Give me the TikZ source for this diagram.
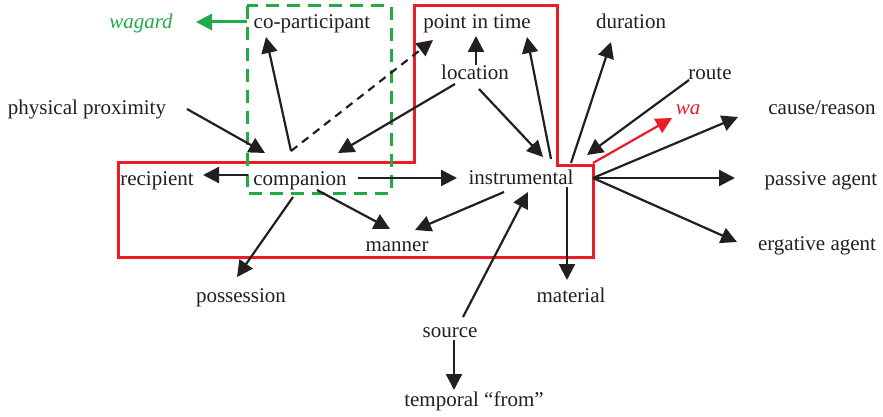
\documentclass[tikz,border=0pt]{standalone}
\usepackage{fontspec}
\setmainfont{Liberation Serif}
\usetikzlibrary{arrows.meta}
\definecolor{rred}{RGB}{237,28,36}
\definecolor{ggreen}{RGB}{34,170,72}
\definecolor{ink}{RGB}{35,31,32}
\begin{document}
\begin{tikzpicture}[x=1pt,y=-1pt,
  lbl/.style={anchor=base,inner sep=0pt,font=\fontsize{21}{25}\selectfont,text=ink},
  tip/.style={-{Triangle[length=16pt,width=16pt]}},
  arr/.style={draw=ink,line width=2.2pt,tip},
  redbox/.style={draw=rred,line width=3pt},
  greenbox/.style={draw=ggreen,line width=3pt,dash pattern=on 13pt off 8pt}]
\useasboundingbox (0,0) rectangle (883,417);
% outlines
\draw[redbox] (118,162) -- (414,162) -- (414,6) -- (557,6) -- (557,165) -- (593,165) -- (593,257) -- (118,257) -- cycle;
\draw[greenbox] (247,6) rectangle (391,193);
% labels
\node[lbl,text=ggreen,font=\fontsize{21}{25}\selectfont\itshape] (wagard) at (141,29) {wagard};
\node[lbl] (copart) at (312,29) {co-participant};
\node[lbl] (pit) at (477,29) {point in time};
\node[lbl] (dur) at (631,29) {duration};
\node[lbl] (loc) at (475,80) {location};
\node[lbl] (route) at (710,80) {route};
\node[lbl,text=rred,font=\fontsize{21}{25}\selectfont\itshape] (wa) at (688,115) {wa};
\node[lbl] (phys) at (87,114) {physical proximity};
\node[lbl] (cause) at (822,114) {cause/reason};
\node[lbl] (recip) at (157,185) {recipient};
\node[lbl] (comp) at (300,185) {companion};
\node[lbl] (instr) at (521,184) {instrumental};
\node[lbl] (pass) at (821,185) {passive agent};
\node[lbl] (manner) at (397,251) {manner};
\node[lbl] (erg) at (817,250) {ergative agent};
\node[lbl] (poss) at (241,302) {possession};
\node[lbl] (mat) at (571,302) {material};
\node[lbl] (src) at (450,337) {source};
\node[lbl] (temp) at (474,406) {temporal “from”};
% connector points
\coordinate (compV) at (291,151);
\coordinate (insR) at (593,178);
% arrows
\draw[arr,draw=ggreen,color=ggreen,line width=3pt] (247,22) -- (196,22);
\draw[arr] (compV) -- (266,37);
\draw[draw=ink,line width=2.2pt,dash pattern=on 8pt off 6pt,tip] (compV) -- (433,40);
\draw[arr] (187,109) -- (265,153);
\draw[arr] (455,84) -- (338,153);
\draw[arr] (476,65) -- (476,36);
\draw[arr] (479,89) -- (543,157);
\draw[arr] (551,159) -- (527,37);
\draw[arr] (571,163) -- (611,42);
\draw[arr] (689,80) -- (587,155);
\draw[arr,draw=rred,color=rred] (593,163) -- (672,118);
\draw[arr] (insR) -- (738,117);
\draw[arr] (insR) -- (735,178);
\draw[arr] (insR) -- (737,242);
\draw[arr] (358,178) -- (457,178);
\draw[arr] (248,175) -- (203,175);
\draw[arr] (317,190) -- (390,229);
\draw[arr] (504,192) -- (415,230);
\draw[arr] (293,197) -- (237,277);
\draw[arr] (463,317) -- (528,192);
\draw[arr] (567,187) -- (567,280);
\draw[arr] (454,340) -- (454,390);
\end{tikzpicture}
\end{document}
